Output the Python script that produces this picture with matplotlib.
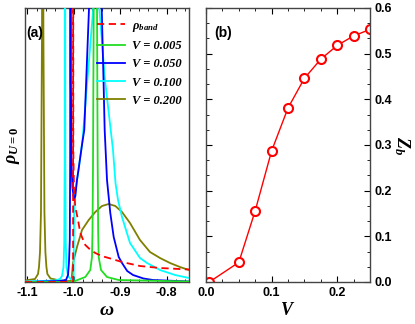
import matplotlib
matplotlib.use("Agg")
import matplotlib.pyplot as plt
from matplotlib import ticker

# panel (a): spectral densities (arbitrary units)
w_band = [-1.105, -1.0015, -1.0014, -1.0010, -0.9995, -0.9967, -0.9909, -0.9860,
          -0.9752, -0.9650, -0.9537, -0.9400, -0.9249, -0.8962, -0.8575, -0.8144, -0.752]
rho_band = [0.0, 0.0, 60.0, 13.2, 9.2, 7.5, 6.2, 4.9,
            3.7, 3.25, 2.9, 2.6, 2.4, 2.0, 1.6, 1.4, 1.25]

w_005 = [-1.105, -1.0, -0.9974, -0.9752, -0.9645, -0.9608, -0.9597, -0.9586, -0.9571,
         -0.9537, -0.9500, -0.9486, -0.9475, -0.9464, -0.9414, -0.9285, -0.9033, -0.752]
rho_005 = [0.0, 0.0, 0.1, 0.5, 1.2, 2.5, 5.0, 12.0, 27.4,
           60.0, 27.4, 12.0, 5.0, 2.5, 1.2, 0.5, 0.2, 0.05]

w_050 = [-1.105, -1.0297, -1.0168, -1.0124, -1.0103, -1.0086, -1.0078, -1.0071, -1.0064,
         -1.0050, -1.0030, -1.0005, -0.9990, -0.9966, -0.9931, -0.9890, -0.9860, -0.9808,
         -0.9774, -0.9722, -0.9672, -0.9536, -0.9399, -0.9360, -0.9335, -0.9285, -0.9214,
         -0.9141, -0.9033, -0.8962, -0.8850, -0.8725, -0.8500, -0.8295, -0.752]
rho_050 = [0.0, 0.1, 0.2, 0.7, 2.0, 4.2, 12.0, 60.0, 20.0,
           12.0, 9.5, 8.6, 8.3, 8.6, 10.2, 11.5, 12.5, 14.2,
           15.2, 21.4, 27.4, 40.0, 27.4, 20.2, 15.2, 10.2, 6.9,
           4.5, 2.5, 1.9, 1.1, 0.7, 0.35, 0.2, 0.05]

w_100 = [-1.105, -1.0404, -1.0297, -1.0254, -1.0221, -1.0205, -1.0196, -1.0189, -1.0182,
         -1.0173, -1.0157, -1.0124, -1.0071, -1.0010, -1.0002, -0.9999, -0.9991, -0.9963,
         -0.9898, -0.9812, -0.9707, -0.9580, -0.9516, -0.9451, -0.9328, -0.9156, -0.9102,
         -0.9048, -0.8962, -0.8790, -0.8575, -0.8424, -0.8144, -0.7821, -0.752]
rho_100 = [0.05, 0.15, 0.3, 0.6, 1.5, 4.0, 12.0, 60.0, 12.0,
           4.0, 1.5, 0.6, 0.3, 0.2, 0.2, 4.0, 7.7, 9.2,
           11.2, 14.2, 20.2, 27.4, 33.0, 27.4, 20.2, 13.2, 9.9,
           8.2, 6.5, 3.9, 2.4, 1.9, 1.2, 0.7, 0.4]

w_200 = [-1.105, -1.0835, -1.0770, -1.0749, -1.0727, -1.0706, -1.0684, -1.0669, -1.0654,
         -1.0632, -1.0611, -1.0589, -1.0568, -1.0500, -1.0300, -1.0100, -1.0054, -1.0049,
         -1.0017, -0.9931, -0.9823, -0.9679, -0.9537, -0.9393, -0.9249, -0.9106, -0.8962,
         -0.8790, -0.8575, -0.8360, -0.8144, -0.7929, -0.7714, -0.752]
rho_200 = [0.15, 0.3, 0.8, 1.5, 3.0, 7.0, 25.0, 60.0, 25.0,
           7.0, 3.0, 1.5, 0.8, 0.35, 0.15, 0.1, 0.1, 0.2,
           1.9, 3.5, 5.2, 6.2, 7.0, 7.6, 7.8, 7.6, 7.0,
           5.9, 4.2, 3.0, 2.4, 1.9, 1.5, 1.2]

# panel (b): quasiparticle weight
V = [0.005, 0.05, 0.075, 0.1, 0.125, 0.15, 0.175, 0.2, 0.225, 0.25]
Zb = [0.0, 0.043, 0.156, 0.287, 0.381, 0.446, 0.488, 0.518, 0.539, 0.553]

plt.rcParams['font.family'] = 'Liberation Sans'
plt.rcParams['font.weight'] = 'bold'
plt.rcParams['axes.unicode_minus'] = False
plt.rcParams['mathtext.fontset'] = 'custom'
plt.rcParams['mathtext.it'] = 'Liberation Serif:italic:bold'
plt.rcParams['mathtext.rm'] = 'Liberation Serif:bold'
plt.rcParams['mathtext.bf'] = 'Liberation Serif:bold'

W, H = 415, 324
fig = plt.figure(figsize=(W / 100, H / 100), dpi=100)
ax1 = fig.add_axes([25 / W, 1 - 282 / H, 164 / W, 274 / H])
ax2 = fig.add_axes([206 / W, 1 - 282 / H, 164 / W, 274 / H])

for ax in (ax1, ax2):
    for s in ax.spines.values():
        s.set_linewidth(1.0)
        s.set_color('#444444')

# ---- (a)
lw = 1.3
ax1.plot(w_200, rho_200, color='#808000', lw=lw, label='V = 0.200', zorder=2)
ax1.plot(w_100, rho_100, color='cyan', lw=lw, label='V = 0.100', zorder=3)
ax1.plot(w_050, rho_050, color='blue', lw=lw, label='V = 0.050', zorder=4)
ax1.plot(w_005, rho_005, color='#22dd22', lw=lw, label='V = 0.005', zorder=5)
ax1.plot(w_band, rho_band, color='red', lw=lw, ls=(0, (4, 2.5)), label=r'$\rho_{band}$', zorder=6)

ax1.set_xlim(-1.105, -0.752)
ax1.set_ylim(0, 27.4)
ax1.xaxis.set_major_locator(ticker.MultipleLocator(0.1))
ax1.xaxis.set_minor_locator(ticker.MultipleLocator(0.02))
ax1.xaxis.set_major_formatter(ticker.FormatStrFormatter('%.1f'))
ax1.set_yticks([])
ax1.tick_params(axis='x', which='both', direction='in', top=True, labelsize=9)
ax1.tick_params(axis='x', which='major', length=4)
ax1.tick_params(axis='x', which='minor', length=2)
ax1.set_xlabel(r'$\omega$', fontsize=14, labelpad=2)
ax1.set_ylabel(r'$\rho_{U=0}$', fontsize=13, labelpad=2)
ax1.text(0.01, 0.895, '(a)', transform=ax1.transAxes, fontsize=10, fontweight='bold')

handles, labels = ax1.get_legend_handles_labels()
order = [4, 3, 2, 1, 0]
leg = ax1.legend([handles[i] for i in order], [labels[i] for i in order],
                 loc='upper left', bbox_to_anchor=(0.44, 0.957), frameon=False,
                 borderpad=0, borderaxespad=0, handlelength=2.2, handletextpad=0.6,
                 labelspacing=0.5,
                 prop={'family': 'Liberation Serif', 'style': 'italic', 'weight': 'bold', 'size': 9})

# ---- (b)
ax2.plot(V, Zb, color='red', lw=1.0, marker='o', markersize=6.5, markerfacecolor='white',
         markeredgecolor='red', markeredgewidth=1.5)
ax2.set_xlim(0, 0.25)
ax2.set_ylim(0, 0.6)
ax2.xaxis.set_major_locator(ticker.MultipleLocator(0.1))
ax2.xaxis.set_minor_locator(ticker.MultipleLocator(0.025))
ax2.yaxis.set_major_locator(ticker.MultipleLocator(0.1))
ax2.yaxis.set_minor_locator(ticker.AutoMinorLocator(3))
ax2.xaxis.set_major_formatter(ticker.FormatStrFormatter('%.1f'))
ax2.yaxis.set_major_formatter(ticker.FormatStrFormatter('%.1f'))
ax2.yaxis.tick_right()
ax2.yaxis.set_label_position('right')
ax2.tick_params(which='both', direction='in', top=True, left=True, right=True, labelsize=9)
ax2.tick_params(which='major', length=4)
ax2.tick_params(which='minor', length=2)
ax2.set_xlabel(r'$V$', fontsize=13, labelpad=2)
ax2.set_ylabel(r'$Z_b$', fontsize=13, rotation=270, labelpad=14)
ax2.text(0.05, 0.895, '(b)', transform=ax2.transAxes, fontsize=10, fontweight='bold')

fig.savefig('out.png', dpi=100)
